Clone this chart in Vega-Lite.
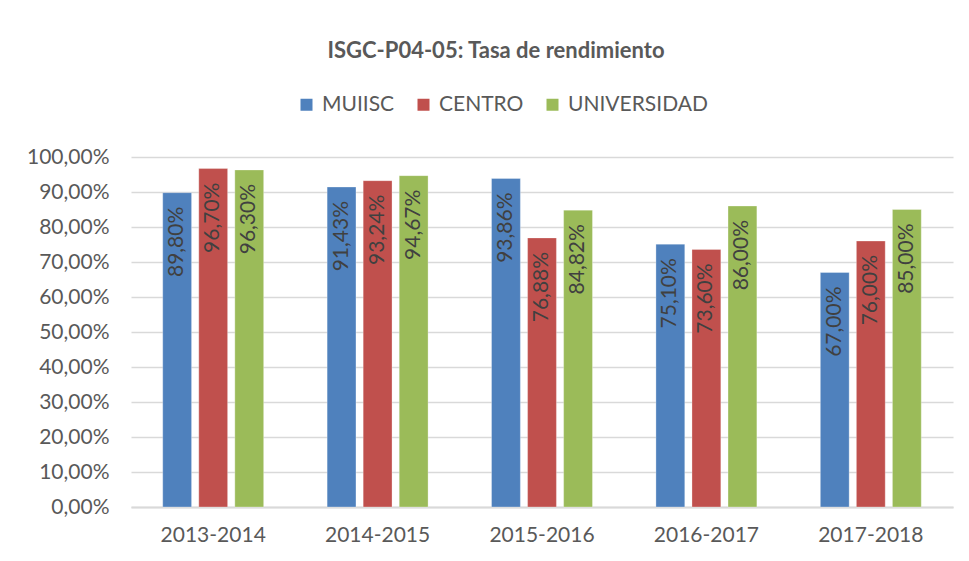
{
  "$schema": "https://vega.github.io/schema/vega-lite/v6.json",
  "width": 822,
  "height": 350,
  "autosize": {"type": "none"},
  "padding": {"left": 131, "top": 157, "right": 16, "bottom": 54},
  "background": "white",
  "title": {
    "text": "ISGC-P04-05: Tasa de rendimiento",
    "anchor": "middle",
    "font": "Lato",
    "fontSize": 22,
    "fontWeight": "bold",
    "color": "#595959",
    "offset": 31,
    "dx": -46
  },
  "config": {
    "locale": {"number": {"decimal": ",", "thousands": ".", "grouping": [3], "currency": ["", " €"]}},
    "view": {"stroke": null},
    "font": "Lato"
  },
  "data": {
    "values": [
      {"periodo": "2013-2014", "serie": "MUIISC", "valor": 0.898},
      {"periodo": "2013-2014", "serie": "CENTRO", "valor": 0.967},
      {"periodo": "2013-2014", "serie": "UNIVERSIDAD", "valor": 0.963},
      {"periodo": "2014-2015", "serie": "MUIISC", "valor": 0.9143},
      {"periodo": "2014-2015", "serie": "CENTRO", "valor": 0.9324},
      {"periodo": "2014-2015", "serie": "UNIVERSIDAD", "valor": 0.9467},
      {"periodo": "2015-2016", "serie": "MUIISC", "valor": 0.9386},
      {"periodo": "2015-2016", "serie": "CENTRO", "valor": 0.7688},
      {"periodo": "2015-2016", "serie": "UNIVERSIDAD", "valor": 0.8482},
      {"periodo": "2016-2017", "serie": "MUIISC", "valor": 0.751},
      {"periodo": "2016-2017", "serie": "CENTRO", "valor": 0.736},
      {"periodo": "2016-2017", "serie": "UNIVERSIDAD", "valor": 0.86},
      {"periodo": "2017-2018", "serie": "MUIISC", "valor": 0.67},
      {"periodo": "2017-2018", "serie": "CENTRO", "valor": 0.76},
      {"periodo": "2017-2018", "serie": "UNIVERSIDAD", "valor": 0.85}
    ]
  },
  "encoding": {
    "x": {
      "field": "periodo",
      "type": "nominal",
      "sort": null,
      "scale": {"paddingInner": 0.386, "paddingOuter": 0.193},
      "axis": {
        "title": null,
        "labelAngle": 0,
        "labelFont": "Lato",
        "labelFontSize": 21,
        "labelColor": "#595959",
        "domainColor": "#d9d9d9",
        "domainWidth": 2,
        "ticks": false,
        "labelPadding": 17
      }
    },
    "xOffset": {
      "field": "serie",
      "type": "nominal",
      "sort": ["MUIISC", "CENTRO", "UNIVERSIDAD"],
      "scale": {"paddingInner": 0.2, "paddingOuter": 0}
    },
    "y": {
      "field": "valor",
      "type": "quantitative",
      "scale": {"domain": [0, 1], "nice": false},
      "axis": {
        "title": null,
        "format": ".2%",
        "values": [0, 0.1, 0.2, 0.3, 0.4, 0.5, 0.6, 0.7, 0.8, 0.9, 1],
        "labelFont": "Lato",
        "labelFontSize": 21,
        "labelColor": "#595959",
        "gridColor": "#d9d9d9",
        "gridWidth": 1.5,
        "domain": false,
        "ticks": false,
        "labelPadding": 22
      }
    }
  },
  "layer": [
    {
      "mark": {"type": "bar", "stroke": "white", "strokeWidth": 0.5, "strokeOpacity": 0.6},
      "encoding": {
        "color": {
          "field": "serie",
          "type": "nominal",
          "sort": ["MUIISC", "CENTRO", "UNIVERSIDAD"],
          "scale": {"domain": ["MUIISC", "CENTRO", "UNIVERSIDAD"], "range": ["#4f81bd", "#c0504d", "#9bbb59"]},
          "legend": {
            "orient": "none",
            "legendX": 165,
            "legendY": -63,
            "direction": "horizontal",
            "title": null,
            "symbolType": "square",
            "symbolSize": 144,
            "symbolStrokeWidth": 0,
            "labelFont": "Lato",
            "labelFontSize": 21,
            "labelColor": "#595959",
            "labelOffset": 5,
            "columnPadding": 18
          }
        }
      }
    },
    {
      "mark": {
        "type": "text",
        "angle": 270,
        "align": "right",
        "baseline": "middle",
        "dx": -14,
        "font": "Lato",
        "fontSize": 21,
        "color": "#404040"
      },
      "encoding": {
        "text": {"field": "valor", "type": "quantitative", "format": ".2%"}
      }
    }
  ]
}
